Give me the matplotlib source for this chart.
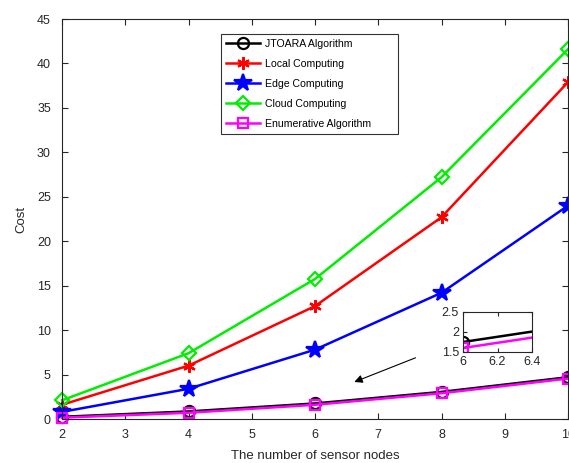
import matplotlib.pyplot as plt
import numpy as np

plt.rcParams["font.family"] = ["Liberation Sans", "DejaVu Sans"]

nodes = np.array([2, 4, 6, 8, 10])
jtoara = np.array([0.25, 0.85, 1.75, 3.05, 4.7])
local = np.array([1.6, 6.0, 12.7, 22.7, 37.9])
edge = np.array([0.8, 3.4, 7.8, 14.2, 24.0])
cloud = np.array([2.1, 7.4, 15.75, 27.2, 41.6])
enum = np.array([0.15, 0.7, 1.6, 2.9, 4.55])

series = [
    ("JTOARA Algorithm", jtoara, "black", "o", 8, "none"),
    ("Local Computing", local, "red", (6, 2, 0), 9, "red"),
    ("Edge Computing", edge, "blue", "*", 13, "blue"),
    ("Cloud Computing", cloud, "#00ee00", "D", 7, "none"),
    ("Enumerative Algorithm", enum, "magenta", "s", 7, "none"),
]

fig = plt.figure(figsize=(5.69, 4.63), dpi=100)
ax = fig.add_axes([62 / 569, 1 - 419 / 463, 506 / 569, 400 / 463])

for label, y, color, marker, ms, mfc in series:
    ax.plot(nodes, y, color=color, marker=marker, markersize=ms,
            markerfacecolor=mfc, markeredgewidth=1.6, linewidth=1.8,
            label=label, clip_on=False)

ax.set_xlim(2, 10)
ax.set_ylim(0, 45)
ax.set_xticks(range(2, 11))
ax.set_yticks(range(0, 46, 5))
ax.tick_params(direction="in", top=True, right=True, labelsize=9,
               colors="#262626", length=4, width=0.8)
ax.tick_params(axis="x", pad=7)
ax.tick_params(axis="y", pad=8)
for s in ax.spines.values():
    s.set_color("#262626")
    s.set_linewidth(0.8)
ax.set_xlabel("The number of sensor nodes", fontsize=9.5, color="#262626")
ax.set_ylabel("Cost", fontsize=9.5, color="#262626")
ax.xaxis.set_label_coords(0.5, -0.078)
ax.yaxis.set_label_coords(-0.069, 0.5)

leg = ax.legend(loc="upper left", bbox_to_anchor=(0.314, 0.962, 0.35, 0.0),
                mode="expand", fontsize=7.6,
                frameon=True, fancybox=False, edgecolor="black",
                handlelength=3.3, labelspacing=0.95, borderpad=0.45,
                handletextpad=0.4, borderaxespad=0.0)
leg.get_frame().set_linewidth(0.8)

ax.annotate("", xy=(6.58, 4.05), xytext=(7.63, 7.0),
            arrowprops=dict(arrowstyle="-|>", color="black", lw=0.8,
                            mutation_scale=12))

# inset
ins = fig.add_axes([463 / 569, 1 - 352 / 463, 69 / 569, 40 / 463])
for label, y, color, marker, ms, mfc in series:
    if label in ("JTOARA Algorithm", "Enumerative Algorithm"):
        ins.plot(nodes, y, color=color, marker=marker, markersize=ms,
                 markerfacecolor=mfc, markeredgewidth=1.6, linewidth=1.8,
                 clip_on=True)
ins.set_xlim(6, 6.4)
ins.set_ylim(1.5, 2.5)
ins.set_xticks([6, 6.2, 6.4])
ins.set_xticklabels(["6", "6.2", "6.4"])
ins.set_yticks([1.5, 2, 2.5])
ins.set_yticklabels(["1.5", "2", "2.5"])
ins.tick_params(direction="in", top=True, right=True, labelsize=9,
                colors="#262626", length=3, width=0.8, pad=3)
for s in ins.spines.values():
    s.set_color("#262626")
    s.set_linewidth(0.8)

fig.savefig("out.png", dpi=100)
